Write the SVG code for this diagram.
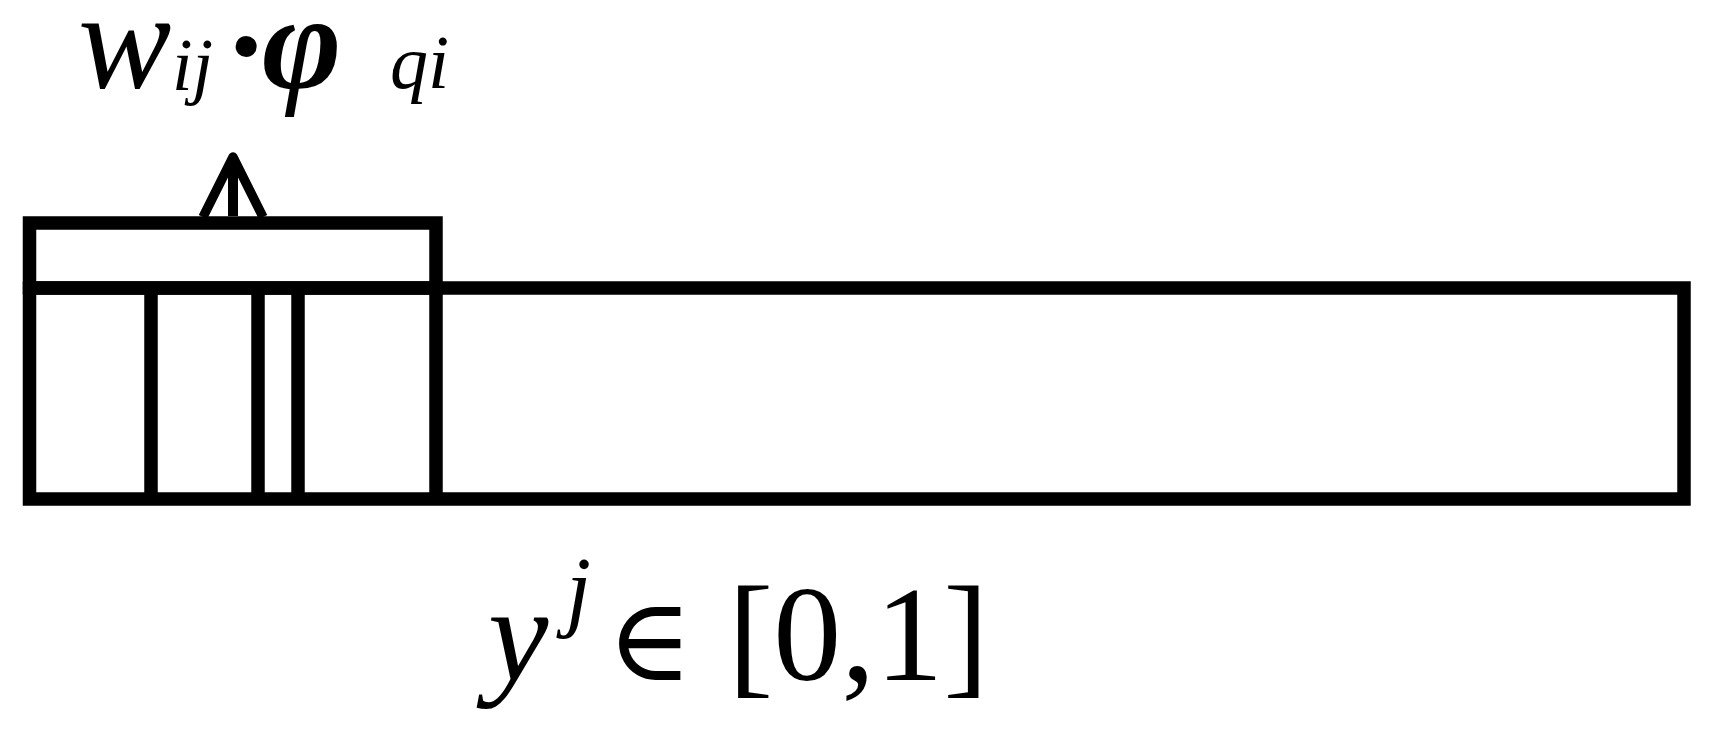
<svg xmlns="http://www.w3.org/2000/svg" width="1710" height="729" viewBox="0 0 1710 729">
  <style>
    .ln { fill: none; stroke: #000; stroke-width: 13.5; }
    .it { font-family: "Liberation Serif", "Times New Roman", serif; font-style: italic; fill: #000; }
    .bi { font-family: "Liberation Serif", "Times New Roman", serif; font-style: italic; font-weight: bold; fill: #000; }
    .rm { font-family: "Liberation Serif", "DejaVu Serif", serif; fill: #000; }
  </style>
  <defs>
    <marker id="vhead" markerUnits="userSpaceOnUse" viewBox="-70 -40 80 80" refX="0" refY="0" markerWidth="80" markerHeight="80" orient="auto" overflow="visible">
      <path d="M -60 -30 L 0 0 L -60 30" fill="none" stroke="#000" stroke-width="9.5" stroke-linejoin="round"/>
    </marker>
  </defs>
  <rect width="1710" height="729" fill="#fff"/>

  <g id="upper-block">
    <rect class="ln" x="29.5" y="223" width="406.5" height="65"/>
  </g>
  <g id="main-block">
    <rect class="ln" x="29.5" y="288" width="1654.5" height="211"/>
    <line class="ln" x1="151" y1="288" x2="151" y2="499"/>
    <line class="ln" x1="258" y1="288" x2="258" y2="499"/>
    <line class="ln" x1="298" y1="288" x2="298" y2="499"/>
    <line class="ln" x1="436" y1="288" x2="436" y2="499"/>
  </g>

  <g id="connectors">
    <line x1="233" y1="216" x2="233" y2="157" stroke="#000" stroke-width="10" marker-end="url(#vhead)"/>
  </g>

  <g id="label-top">
    <text class="it" x="78" y="88" font-size="140">w</text>
    <text class="it" x="172" y="90" font-size="74">ij</text>
    <text class="bi" x="229" y="89" font-size="130">·</text>
    <text class="bi" x="262" y="88" font-size="136">φ</text>
    <text class="it" x="390" y="88" font-size="76">qi</text>
  </g>

  <g id="label-bottom">
    <text class="it" x="488" y="680" font-size="136">y</text>
    <text class="it" x="566" y="620" font-size="90">j</text>
    <text class="rm" x="607" y="680" font-size="116">∈</text>
    <text class="rm" x="728" y="680" font-size="136">[0,1]</text>
  </g>
</svg>
